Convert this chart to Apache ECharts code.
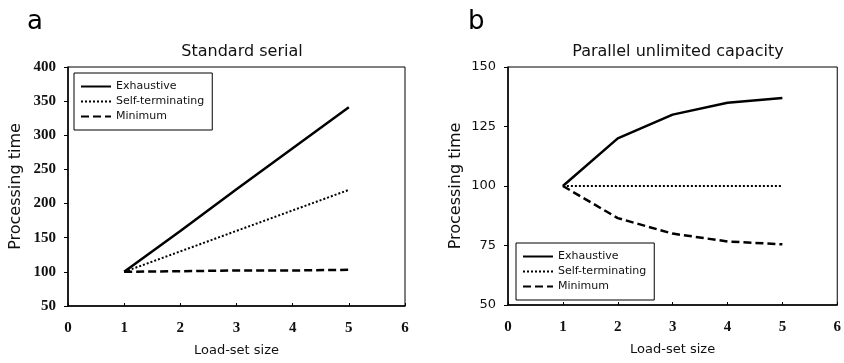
<!DOCTYPE html>
<html>
<head>
<meta charset="utf-8">
<script src="https://cdn.jsdelivr.net/npm/echarts@6/dist/echarts.min.js"></script>
<style>
    html, body { margin: 0; padding: 0; background: #fff; }
    #main { width: 844px; height: 363px; }
</style>
</head>
<body>
<div id="main"></div>
<script>
// load-set sizes (x) shared by both panels
var loadSizes = [1, 2, 3, 4, 5];
var seriesNames = ['Exhaustive', 'Self-terminating', 'Minimum'];

// panel a: standard serial
var serialExhaustive = [100, 160, 221, 281, 341];
var serialSelfTerm = [100, 130, 160, 190, 220];
var serialMinimum = [100, 101, 102, 102, 103];

// panel b: parallel unlimited capacity
var parallelExhaustive = [100, 120, 130, 135, 137];
var parallelSelfTerm = [100, 100, 100, 100, 100];
var parallelMinimum = [100, 86.5, 80, 76.7, 75.5];

function pairs(ys) {
    return loadSizes.map(function (x, i) { return [x, ys[i]]; });
}

var lineStyles = [
    { type: 'solid', width: 2.5 },
    { type: [2, 2], width: 2 },
    { type: [8, 4], width: 2.5 }
];

var serif = 'Liberation Serif';
var sans = 'DejaVu Sans';

function makeXAxis(idx) {
    return {
        type: 'value', gridIndex: idx, min: 0, max: 6, interval: 1,
        name: 'Load-set size', nameLocation: 'middle', nameGap: 38,
        nameTextStyle: { fontFamily: sans, fontSize: 13, color: '#111' },
        axisLine: { lineStyle: { color: '#000', width: 1.5 } },
        axisTick: { inside: true, length: 3, lineStyle: { color: '#000' } },
        axisLabel: { fontFamily: serif, fontSize: 15, fontWeight: 'bold', color: '#111', margin: 15 },
        splitLine: { show: false }
    };
}

function makeYAxis(idx, min, max, interval, labelFont, labelSize, labelWeight) {
    return {
        type: 'value', gridIndex: idx, min: min, max: max, interval: interval,
        name: 'Processing time', nameLocation: 'middle', nameGap: 44,
        nameTextStyle: { fontFamily: sans, fontSize: 16, color: '#111' },
        axisLine: { show: true, lineStyle: { color: '#000', width: 1.5 } },
        axisTick: { show: true, length: 4, lineStyle: { color: '#000' } },
        axisLabel: { fontFamily: labelFont, fontSize: labelSize, fontWeight: labelWeight, color: '#111', margin: 12 },
        splitLine: { show: false }
    };
}

function makeSeries(idx, data) {
    return data.map(function (ys, i) {
        return {
            name: seriesNames[i],
            type: 'line',
            xAxisIndex: idx,
            yAxisIndex: idx,
            data: pairs(ys),
            symbol: 'none',
            color: '#000',
            lineStyle: Object.assign({ color: '#000' }, lineStyles[i]),
            animation: false
        };
    });
}

function makeLegend(left, top) {
    return {
        orient: 'vertical', left: left, top: top,
        data: seriesNames,
        itemWidth: 30, itemHeight: 10, itemGap: 4,
        padding: [8, 8, 8, 6],
        borderColor: '#000', borderWidth: 1,
        itemStyle: { opacity: 0 },
        textStyle: { fontFamily: sans, fontSize: 11, color: '#111' },
        selectedMode: false
    };
}

var chart = echarts.init(document.getElementById('main'));
var option = {
    backgroundColor: '#fff',
    title: [
        { text: 'a', left: 22, top: 4, textStyle: { fontFamily: sans, fontSize: 26, fontWeight: 'normal', color: '#000' } },
        { text: 'b', left: 463, top: 4, textStyle: { fontFamily: sans, fontSize: 26, fontWeight: 'normal', color: '#000' } },
        { text: 'Standard serial', left: 237, top: 39, textAlign: 'center', textStyle: { fontFamily: sans, fontSize: 16, fontWeight: 'normal', color: '#111' } },
        { text: 'Parallel unlimited capacity', left: 673, top: 39, textAlign: 'center', textStyle: { fontFamily: sans, fontSize: 16, fontWeight: 'normal', color: '#111' } }
    ],
    grid: [
        { left: 68, top: 67, width: 337, height: 239, show: true, borderColor: '#000', borderWidth: 1 },
        { left: 508, top: 67, width: 335, height: 238, show: true, borderColor: '#000', borderWidth: 1 }
    ],
    xAxis: [makeXAxis(0), makeXAxis(1)],
    yAxis: [
        makeYAxis(0, 50, 400, 50, serif, 15, 'bold'),
        makeYAxis(1, 50, 150, 25, sans, 13, 'normal')
    ],
    legend: [makeLegend(74, 73), makeLegend(516, 243)],
    series: makeSeries(0, [serialExhaustive, serialSelfTerm, serialMinimum])
        .concat(makeSeries(1, [parallelExhaustive, parallelSelfTerm, parallelMinimum]))
};
chart.setOption(option);
</script>
</body>
</html>
